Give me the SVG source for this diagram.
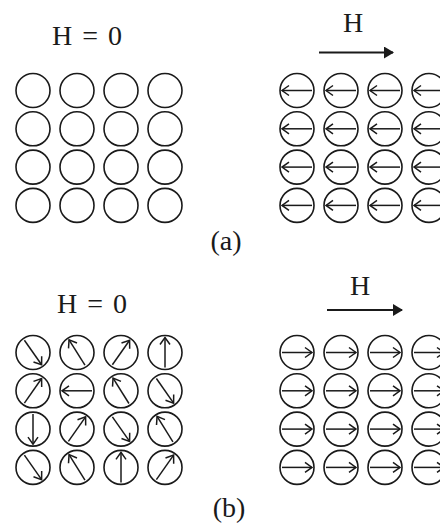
<svg xmlns="http://www.w3.org/2000/svg" xmlns:xlink="http://www.w3.org/1999/xlink" width="440" height="525" viewBox="0 0 440 525">
<style>
.c{fill:none;stroke:#1a1a1a;stroke-width:1.6}
.a line,.a polyline{fill:none;stroke:#1a1a1a;stroke-width:1.5}
.t{font-family:"Liberation Serif","Times New Roman",serif;font-size:28px;fill:#1a1a1a}
.h{stroke:#1a1a1a;stroke-width:2;fill:none}
</style>
<defs>
<g id="arr" class="a"><line x1="-15" y1="0" x2="15" y2="0"/><polyline points="8,-5 15,0 8,5"/></g>
<circle id="cc" class="c" r="17"/>
<marker id="mh" markerWidth="10" markerHeight="12" refX="9" refY="6" orient="auto" markerUnits="userSpaceOnUse">
<path d="M0,0 L10,6 L0,12 Z" fill="#1a1a1a"/>
</marker>
</defs>
<rect width="440" height="525" fill="#fff"/>

<g id="labels">
<text class="t" x="52" y="45" word-spacing="3">H = 0</text>
<text class="t" x="353" y="32" text-anchor="middle">H</text>
<text class="t" x="226" y="250" text-anchor="middle">(a)</text>
<text class="t" x="57" y="313" word-spacing="3">H = 0</text>
<text class="t" x="360" y="295" text-anchor="middle">H</text>
<text class="t" x="229" y="517" text-anchor="middle">(b)</text>
</g>

<g id="connectors">
<line class="h" x1="319" y1="52.5" x2="393" y2="52.5" marker-end="url(#mh)"/>
<line class="h" x1="327" y1="310" x2="402" y2="310" marker-end="url(#mh)"/>
</g>

<g id="grid-a-left">
<g id="aL11"><use xlink:href="#cc" x="33" y="90.5"/></g>
<g id="aL12"><use xlink:href="#cc" x="77" y="90.5"/></g>
<g id="aL13"><use xlink:href="#cc" x="121" y="90.5"/></g>
<g id="aL14"><use xlink:href="#cc" x="165" y="90.5"/></g>
<g id="aL21"><use xlink:href="#cc" x="33" y="128.8"/></g>
<g id="aL22"><use xlink:href="#cc" x="77" y="128.8"/></g>
<g id="aL23"><use xlink:href="#cc" x="121" y="128.8"/></g>
<g id="aL24"><use xlink:href="#cc" x="165" y="128.8"/></g>
<g id="aL31"><use xlink:href="#cc" x="33" y="167.1"/></g>
<g id="aL32"><use xlink:href="#cc" x="77" y="167.1"/></g>
<g id="aL33"><use xlink:href="#cc" x="121" y="167.1"/></g>
<g id="aL34"><use xlink:href="#cc" x="165" y="167.1"/></g>
<g id="aL41"><use xlink:href="#cc" x="33" y="205.4"/></g>
<g id="aL42"><use xlink:href="#cc" x="77" y="205.4"/></g>
<g id="aL43"><use xlink:href="#cc" x="121" y="205.4"/></g>
<g id="aL44"><use xlink:href="#cc" x="165" y="205.4"/></g>
</g>

<g id="grid-a-right">
<g id="aR11" transform="translate(297,90.5)"><use xlink:href="#cc"/><use xlink:href="#arr" transform="rotate(180)"/></g>
<g id="aR12" transform="translate(341,90.5)"><use xlink:href="#cc"/><use xlink:href="#arr" transform="rotate(180)"/></g>
<g id="aR13" transform="translate(385,90.5)"><use xlink:href="#cc"/><use xlink:href="#arr" transform="rotate(180)"/></g>
<g id="aR14" transform="translate(429,90.5)"><use xlink:href="#cc"/><use xlink:href="#arr" transform="rotate(180)"/></g>
<g id="aR21" transform="translate(297,128.8)"><use xlink:href="#cc"/><use xlink:href="#arr" transform="rotate(180)"/></g>
<g id="aR22" transform="translate(341,128.8)"><use xlink:href="#cc"/><use xlink:href="#arr" transform="rotate(180)"/></g>
<g id="aR23" transform="translate(385,128.8)"><use xlink:href="#cc"/><use xlink:href="#arr" transform="rotate(180)"/></g>
<g id="aR24" transform="translate(429,128.8)"><use xlink:href="#cc"/><use xlink:href="#arr" transform="rotate(180)"/></g>
<g id="aR31" transform="translate(297,167.1)"><use xlink:href="#cc"/><use xlink:href="#arr" transform="rotate(180)"/></g>
<g id="aR32" transform="translate(341,167.1)"><use xlink:href="#cc"/><use xlink:href="#arr" transform="rotate(180)"/></g>
<g id="aR33" transform="translate(385,167.1)"><use xlink:href="#cc"/><use xlink:href="#arr" transform="rotate(180)"/></g>
<g id="aR34" transform="translate(429,167.1)"><use xlink:href="#cc"/><use xlink:href="#arr" transform="rotate(180)"/></g>
<g id="aR41" transform="translate(297,205.4)"><use xlink:href="#cc"/><use xlink:href="#arr" transform="rotate(180)"/></g>
<g id="aR42" transform="translate(341,205.4)"><use xlink:href="#cc"/><use xlink:href="#arr" transform="rotate(180)"/></g>
<g id="aR43" transform="translate(385,205.4)"><use xlink:href="#cc"/><use xlink:href="#arr" transform="rotate(180)"/></g>
<g id="aR44" transform="translate(429,205.4)"><use xlink:href="#cc"/><use xlink:href="#arr" transform="rotate(180)"/></g>
</g>

<g id="grid-b-left">
<g id="bL11" transform="translate(33,352.5)"><use xlink:href="#cc"/><use xlink:href="#arr" transform="rotate(55)"/></g>
<g id="bL12" transform="translate(77,352.5)"><use xlink:href="#cc"/><use xlink:href="#arr" transform="rotate(-122)"/></g>
<g id="bL13" transform="translate(121,352.5)"><use xlink:href="#cc"/><use xlink:href="#arr" transform="rotate(-55)"/></g>
<g id="bL14" transform="translate(165,352.5)"><use xlink:href="#cc"/><use xlink:href="#arr" transform="rotate(-90)"/></g>
<g id="bL21" transform="translate(33,390.8)"><use xlink:href="#cc"/><use xlink:href="#arr" transform="rotate(-55)"/></g>
<g id="bL22" transform="translate(77,390.8)"><use xlink:href="#cc"/><use xlink:href="#arr" transform="rotate(180)"/></g>
<g id="bL23" transform="translate(121,390.8)"><use xlink:href="#cc"/><use xlink:href="#arr" transform="rotate(-122)"/></g>
<g id="bL24" transform="translate(165,390.8)"><use xlink:href="#cc"/><use xlink:href="#arr" transform="rotate(55)"/></g>
<g id="bL31" transform="translate(33,429.1)"><use xlink:href="#cc"/><use xlink:href="#arr" transform="rotate(90)"/></g>
<g id="bL32" transform="translate(77,429.1)"><use xlink:href="#cc"/><use xlink:href="#arr" transform="rotate(-55)"/></g>
<g id="bL33" transform="translate(121,429.1)"><use xlink:href="#cc"/><use xlink:href="#arr" transform="rotate(55)"/></g>
<g id="bL34" transform="translate(165,429.1)"><use xlink:href="#cc"/><use xlink:href="#arr" transform="rotate(-122)"/></g>
<g id="bL41" transform="translate(33,467.4)"><use xlink:href="#cc"/><use xlink:href="#arr" transform="rotate(55)"/></g>
<g id="bL42" transform="translate(77,467.4)"><use xlink:href="#cc"/><use xlink:href="#arr" transform="rotate(-122)"/></g>
<g id="bL43" transform="translate(121,467.4)"><use xlink:href="#cc"/><use xlink:href="#arr" transform="rotate(-90)"/></g>
<g id="bL44" transform="translate(165,467.4)"><use xlink:href="#cc"/><use xlink:href="#arr" transform="rotate(-55)"/></g>
</g>

<g id="grid-b-right">
<g id="bR11" transform="translate(297,352.5)"><use xlink:href="#cc"/><use xlink:href="#arr"/></g>
<g id="bR12" transform="translate(341,352.5)"><use xlink:href="#cc"/><use xlink:href="#arr"/></g>
<g id="bR13" transform="translate(385,352.5)"><use xlink:href="#cc"/><use xlink:href="#arr"/></g>
<g id="bR14" transform="translate(429,352.5)"><use xlink:href="#cc"/><use xlink:href="#arr"/></g>
<g id="bR21" transform="translate(297,390.8)"><use xlink:href="#cc"/><use xlink:href="#arr"/></g>
<g id="bR22" transform="translate(341,390.8)"><use xlink:href="#cc"/><use xlink:href="#arr"/></g>
<g id="bR23" transform="translate(385,390.8)"><use xlink:href="#cc"/><use xlink:href="#arr"/></g>
<g id="bR24" transform="translate(429,390.8)"><use xlink:href="#cc"/><use xlink:href="#arr"/></g>
<g id="bR31" transform="translate(297,429.1)"><use xlink:href="#cc"/><use xlink:href="#arr"/></g>
<g id="bR32" transform="translate(341,429.1)"><use xlink:href="#cc"/><use xlink:href="#arr"/></g>
<g id="bR33" transform="translate(385,429.1)"><use xlink:href="#cc"/><use xlink:href="#arr"/></g>
<g id="bR34" transform="translate(429,429.1)"><use xlink:href="#cc"/><use xlink:href="#arr"/></g>
<g id="bR41" transform="translate(297,467.4)"><use xlink:href="#cc"/><use xlink:href="#arr"/></g>
<g id="bR42" transform="translate(341,467.4)"><use xlink:href="#cc"/><use xlink:href="#arr"/></g>
<g id="bR43" transform="translate(385,467.4)"><use xlink:href="#cc"/><use xlink:href="#arr"/></g>
<g id="bR44" transform="translate(429,467.4)"><use xlink:href="#cc"/><use xlink:href="#arr"/></g>
</g>
</svg>
